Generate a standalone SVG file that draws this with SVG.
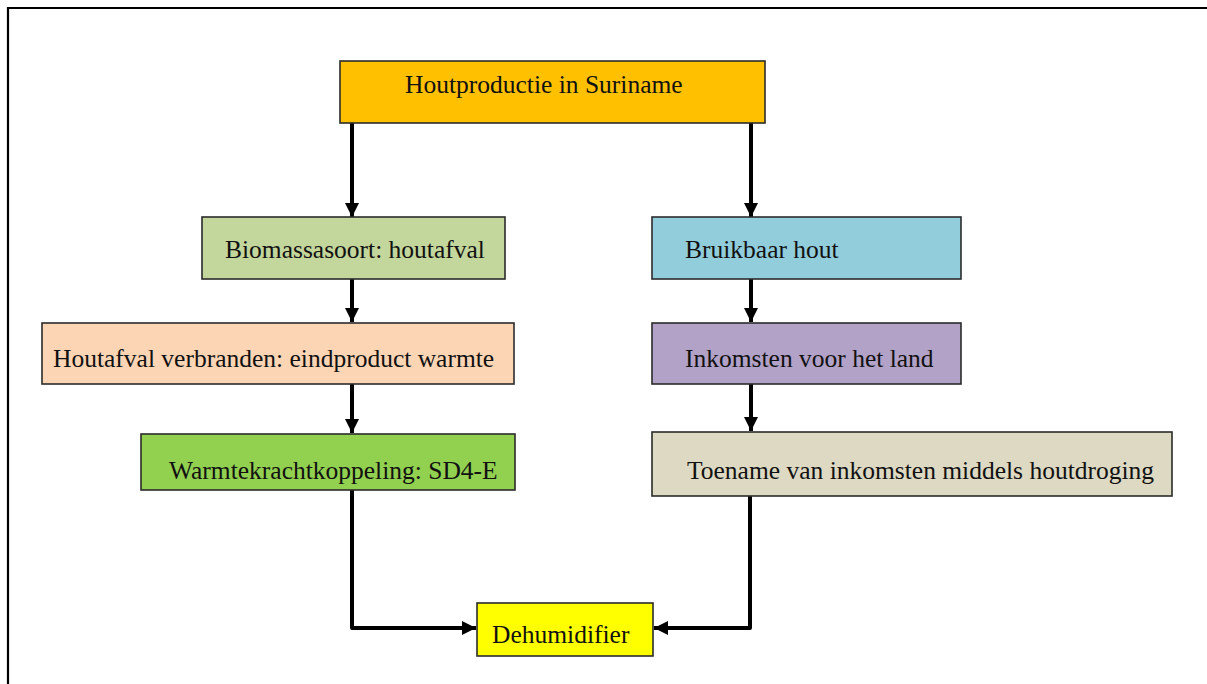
<svg xmlns="http://www.w3.org/2000/svg" width="1207" height="684" viewBox="0 0 1207 684">
<style>
.box{stroke:#2b2b2b;stroke-width:1.6}
.t{font-family:"Liberation Serif","Times New Roman",serif;font-size:25.5px;fill:#111}
.c{fill:none;stroke:#000;stroke-width:4;stroke-linejoin:round}
</style>
<defs>
<marker id="ah" viewBox="0 0 10 10" refX="10" refY="5" markerWidth="3.6" markerHeight="3.6" orient="auto" markerUnits="strokeWidth">
<path d="M0,0 L10,5 L0,10 Z" fill="#000"/>
</marker>
</defs>
<rect width="1207" height="684" fill="#fff"/>
<polyline points="8,684 8,8 1207,8" fill="none" stroke="#000" stroke-width="2.2"/>
<g id="connectors">
<path class="c" d="M352,123 V217" marker-end="url(#ah)"/>
<path class="c" d="M751,123 V217" marker-end="url(#ah)"/>
<path class="c" d="M352,279 V322" marker-end="url(#ah)"/>
<path class="c" d="M751,279 V322" marker-end="url(#ah)"/>
<path class="c" d="M352,384 V433" marker-end="url(#ah)"/>
<path class="c" d="M751,384 V431" marker-end="url(#ah)"/>
<path class="c" d="M352,490 V628 H476" marker-end="url(#ah)"/>
<path class="c" d="M750,496 V628 H654" marker-end="url(#ah)"/>
</g>
<g id="n-top">
<rect class="box" x="340" y="61" width="425" height="62" fill="#FFC000"/>
<text class="t" x="405" y="93">Houtproductie in Suriname</text>
</g>
<g id="n-biomassa">
<rect class="box" x="202" y="217" width="303" height="62" fill="#C3D69B"/>
<text class="t" x="225" y="258">Biomassasoort: houtafval</text>
</g>
<g id="n-bruikbaar">
<rect class="box" x="652" y="217" width="309" height="62" fill="#92CDDC"/>
<text class="t" x="685" y="258">Bruikbaar hout</text>
</g>
<g id="n-houtafval">
<rect class="box" x="42" y="323" width="472" height="61" fill="#FCD5B5"/>
<text class="t" x="53" y="367">Houtafval verbranden: eindproduct warmte</text>
</g>
<g id="n-inkomsten">
<rect class="box" x="652" y="323" width="309" height="61" fill="#B3A2C7"/>
<text class="t" x="685" y="367">Inkomsten voor het land</text>
</g>
<g id="n-warmte">
<rect class="box" x="141" y="434" width="374" height="56" fill="#92D050"/>
<text class="t" x="169" y="479">Warmtekrachtkoppeling: SD4-E</text>
</g>
<g id="n-toename">
<rect class="box" x="652" y="432" width="520" height="64" fill="#DDD9C3"/>
<text class="t" x="687" y="479">Toename van inkomsten middels houtdroging</text>
</g>
<g id="n-dehumidifier">
<rect class="box" x="477" y="603" width="176" height="53" fill="#FFFF00"/>
<text class="t" x="492" y="643">Dehumidifier</text>
</g>
</svg>
